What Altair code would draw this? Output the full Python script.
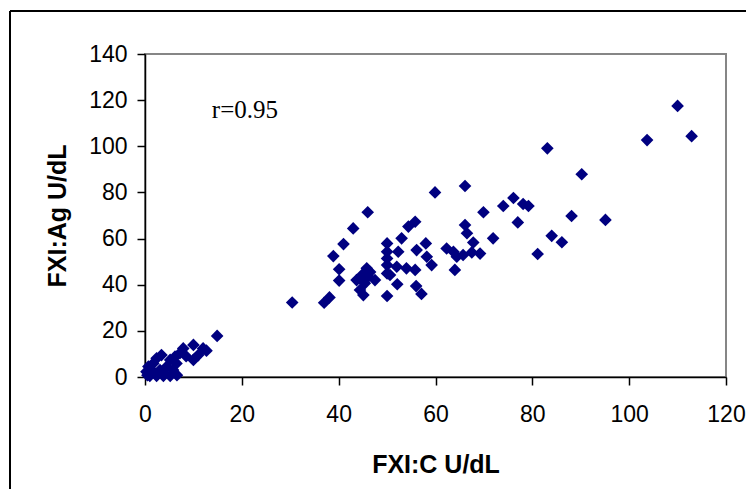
import altair as alt
import pandas as pd

# FXI:C (x) and FXI:Ag (y) values
fxi_c = [
    14.9, 10.0, 12.0, 12.7, 11.0, 10.0, 7.9, 7.2, 6.2, 5.2, 3.4, 2.4, 1.7, 0.7, 0.3,
    1.0, 2.4, 3.8, 5.2, 6.6, 4.5, 5.8, 3.1, 1.7, 6.5, 0.5, 4.0, 8.5,
    30.4, 37.0, 38.1, 40.1, 40.1, 38.9, 41.0, 43.0, 46.0,
    45.8, 44.8, 43.7, 46.1, 47.5, 45.4, 44.4, 45.1, 46.5,
    50.0, 50.0, 50.0, 50.0, 50.0, 50.6, 50.0,
    52.3, 52.0, 52.1, 53.0, 54.4, 55.8, 54.0, 55.8, 56.1, 56.0, 57.1, 58.0, 58.2, 59.2,
    59.9, 62.3, 63.7, 64.4, 65.7, 64.0,
    66.1, 66.1, 66.5, 67.8, 67.5, 69.2,
    69.9, 74.0, 76.1, 78.1, 79.2, 77.0, 71.9, 84.0, 86.1, 81.1, 88.1, 95.1, 90.2, 83.1,
    103.7, 110.0, 112.9,
]
fxi_ag = [
    17.8, 13.9, 12.4, 11.4, 9.5, 7.4, 12.4, 10.3, 8.8, 7.4, 9.5, 8.1, 5.9, 4.5, 2.3,
    0.5, 0.5, 0.5, 0.5, 0.8, 4.5, 3.0, 3.0, 2.3, 5.9, 0.8, 1.5, 9.0,
    32.3, 32.2, 34.5, 41.8, 46.7, 52.4, 57.6, 64.4, 71.4,
    47.1, 44.2, 42.0, 43.5, 42.0, 40.6, 37.7, 35.5, 45.5,
    57.9, 54.3, 51.4, 48.5, 44.9, 44.2, 35.1,
    54.3, 47.8, 40.2, 60.1, 65.2, 67.3, 47.1, 46.4, 55.0, 39.4, 36.0, 57.9, 52.1, 48.5,
    80.0, 55.7, 54.3, 52.1, 52.9, 46.4,
    82.8, 65.9, 62.3, 58.3, 54.0, 53.5,
    71.4, 74.1, 77.6, 75.0, 74.1, 67.0, 60.1, 61.2, 58.4, 53.3, 69.8, 68.1, 87.9, 99.1,
    102.7, 117.5, 104.4,
]
x_ticks = [0, 20, 40, 60, 80, 100, 120]
y_ticks = [0, 20, 40, 60, 80, 100, 120, 140]
annotation = ["r=0.95"]
annotation_x = [13.8]
annotation_y = [115.7]

df = pd.DataFrame({"c": fxi_c, "ag": fxi_ag})
ann = pd.DataFrame({"t": annotation, "x": annotation_x, "y": annotation_y})

xscale = alt.Scale(domain=[0, 120], nice=False, zero=False, padding=0)
yscale = alt.Scale(domain=[0, 140], nice=False, zero=False, padding=0)

points = alt.Chart(df).mark_point(
    shape="diamond", filled=True, size=160, color="#000080", opacity=1
).encode(
    x=alt.X("c:Q", scale=xscale, title="FXI:C U/dL",
            axis=alt.Axis(values=x_ticks, grid=False, tickSize=8, labelPadding=18,
                          labelFlush=False, titlePadding=26)),
    y=alt.Y("ag:Q", scale=yscale, title="FXI:Ag U/dL",
            axis=alt.Axis(values=y_ticks, grid=False, tickSize=8, labelPadding=10,
                          labelFlush=False, titlePadding=18)),
)

text = alt.Chart(ann).mark_text(
    align="left", baseline="middle", font="Liberation Serif", fontSize=25, color="black"
).encode(x=alt.X("x:Q", scale=xscale), y=alt.Y("y:Q", scale=yscale), text="t:N")

frame = alt.Chart(ann).mark_rule(
    stroke="black", strokeWidth=2
).encode(
    x=alt.value(-135), x2=alt.value(900), y=alt.value(-43), y2=alt.value(-43)
)
frame_left = alt.Chart(ann).mark_rule(
    stroke="black", strokeWidth=2
).encode(
    x=alt.value(-135), x2=alt.value(-135), y=alt.value(-43), y2=alt.value(700)
)

chart = alt.layer(frame, frame_left, points, text).properties(
    width=581, height=323,
    autosize=alt.AutoSizeParams(type="none"),
    padding={"left": 137, "top": 46, "right": 20, "bottom": 112},
).configure_view(
    stroke="#868686", strokeWidth=2
).configure_axis(
    labelFont="Liberation Sans", labelFontSize=23, labelColor="black",
    titleFont="Liberation Sans", titleFontSize=25, titleFontWeight="bold", titleColor="black",
    domainColor="black", domainWidth=1.5, tickColor="black", tickWidth=1.5,
)

chart.save("out.html", embed_options={"renderer": "svg", "actions": False})
